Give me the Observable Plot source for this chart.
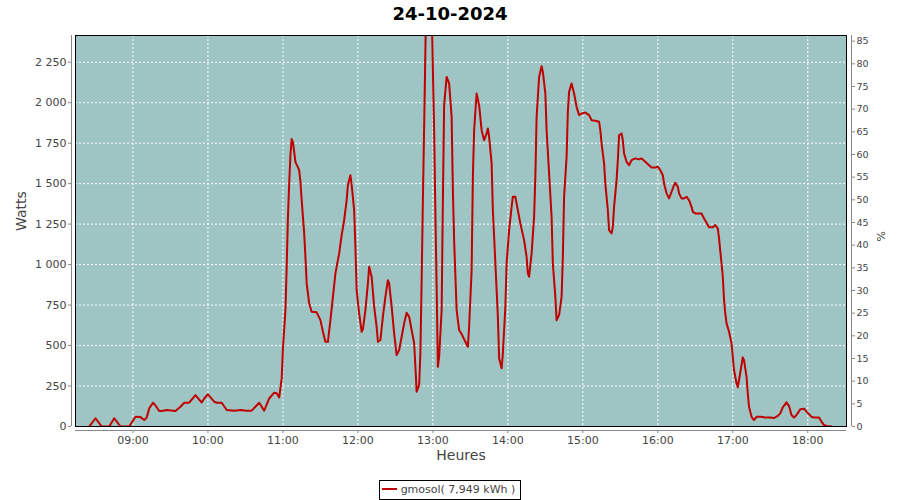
<!DOCTYPE html>
<html>
<head>
<meta charset="utf-8">
<script src="https://cdn.jsdelivr.net/npm/d3@7"></script>
<script src="https://cdn.jsdelivr.net/npm/@observablehq/plot@0.6"></script>
<style>
  body { margin: 0; background: #fff; font-family: "DejaVu Sans", sans-serif; width: 900px; }
  #title { height: 28px; line-height: 28px; text-align: center; font-weight: bold; font-size: 18px; color: #000; }
  #chart svg { display: block; }
  #legend { text-align: center; margin-top: 6px; height: 22px; }
  #legend .box { display: inline-block; border: 1px solid #000; height: 18px; line-height: 18px; padding: 0 5px 0 2px; font-size: 11px; color: #444; box-sizing: content-box; }
  #legend .sw { display: inline-block; width: 15px; height: 2px; background: #c00000; vertical-align: middle; margin-right: 4px; position: relative; top: -1px; }
</style>
</head>
<body>
<div id="title">24-10-2024</div>
<div id="chart"></div>
<div id="legend"><span class="box"><span class="sw"></span>gmosol( 7,949 kWh )</span></div>
<script>
const times = ["08:25","08:30","08:35","08:41","08:45","08:50","08:57","09:02","09:06","09:09","09:11","09:13","09:16","09:18","09:21","09:23","09:27","09:34","09:38","09:41","09:45","09:50","09:55","09:57","10:00","10:05","10:07","10:11","10:15","10:21","10:26","10:31","10:35","10:41","10:45","10:49","10:53","10:55","10:57","10:59",
"11:00","11:01","11:02","11:03","11:04","11:05","11:06","11:07","11:08","11:10","11:13","11:14","11:15","11:17","11:18","11:19","11:21","11:23","11:27","11:30","11:32","11:34","11:36","11:38","11:40","11:42","11:45","11:47","11:49","11:51","11:52","11:54","11:55","11:57","11:58","11:59",
"12:01","12:03","12:04","12:06","12:08","12:09","12:11","12:13","12:15","12:16","12:18","12:20","12:22","12:24","12:25","12:27","12:29","12:31","12:33","12:35","12:37","12:39","12:41","12:43","12:45","12:46","12:47","12:49","12:50","12:51","12:52","12:53","12:54","12:55","12:57","12:59",
"13:00","13:01","13:02","13:03","13:04","13:05","13:07","13:08","13:09","13:11","13:13","13:15","13:16","13:17","13:19","13:21","13:23","13:26","13:28","13:29","13:31","13:32","13:33","13:35","13:37","13:39","13:41","13:43","13:44","13:45","13:47","13:48","13:49","13:51","13:52","13:53","13:55","13:56","13:58","13:59",
"14:01","14:03","14:04","14:06","14:08","14:10","14:13","14:15","14:16","14:17","14:19","14:21","14:22","14:23","14:25","14:27","14:28","14:30","14:31","14:33","14:35","14:36","14:38","14:39","14:41","14:43","14:44","14:45","14:47","14:48","14:49","14:51","14:53","14:55","14:57","14:59",
"15:02","15:05","15:07","15:10","15:13","15:14","15:15","15:17","15:18","15:20","15:21","15:23","15:24","15:25","15:27","15:28","15:29","15:31","15:32","15:33","15:35","15:37","15:39","15:42","15:45","15:47","15:50","15:53","15:55","15:58",
"16:00","16:02","16:04","16:05","16:07","16:09","16:11","16:13","16:14","16:16","16:17","16:19","16:21","16:23","16:25","16:27","16:28","16:30","16:33","16:35","16:37","16:39","16:41","16:44","16:46","16:48","16:49","16:51","16:52","16:53","16:54","16:55","16:57","16:59",
"17:00","17:01","17:03","17:04","17:05","17:07","17:08","17:09","17:11","17:12","17:13","17:15","17:17","17:19","17:22","17:26","17:30","17:33","17:36","17:38","17:40","17:43","17:45","17:47","17:49","17:51","17:54","17:57","17:59",
"18:03","18:05","18:09","18:11","18:13","18:15","18:19"];
const watts = [0,51,0,0,51,0,0,60,58,40,55,112,147,130,96,96,102,96,122,147,147,194,148,173,199,153,147,147,102,98,102,98,98,147,98,173,209,205,180,297,
483,600,719,986,1290,1501,1676,1775,1758,1635,1583,1511,1398,1193,1048,884,760,709,705,657,585,523,523,657,801,946,1069,1182,1275,1398,1491,1552,1491,1336,1110,843,
699,585,600,719,884,986,925,740,616,523,534,678,801,904,884,740,575,441,472,554,637,703,678,596,514,370,215,256,452,900,1400,1850,2324,2800,2900,2600,
2201,1830,1316,863,369,431,719,1398,1985,2159,2119,1912,1460,1151,719,596,571,523,493,616,966,1542,1830,2057,1985,1830,1768,1810,1841,1789,1625,1336,1172,843,678,421,359,452,740,1007,
1213,1357,1419,1419,1336,1254,1151,1048,946,925,1069,1295,1542,1912,2159,2225,2190,2057,1830,1563,1295,1007,801,657,688,801,1048,1419,1665,1943,2067,2119,2057,1974,1923,1933,
1939,1923,1892,1888,1882,1830,1748,1625,1501,1336,1213,1193,1233,1357,1522,1645,1799,1810,1768,1686,1635,1614,1645,1656,1650,1656,1635,1614,1600,1600,
1604,1583,1552,1501,1440,1409,1450,1491,1505,1480,1440,1409,1409,1419,1398,1357,1326,1316,1316,1316,1285,1258,1230,1230,1244,1223,1162,1007,925,781,699,637,585,514,
431,349,267,242,287,380,427,410,307,205,122,60,40,60,60,56,56,52,65,81,118,149,126,71,55,71,106,110,92,
60,55,55,30,9,3,0];

const wattTicks = [0,250,500,750,1000,1250,1500,1750,2000,2250];
const pctTicks = [0,5,10,15,20,25,30,35,40,45,50,55,60,65,70,75,80,85];
const hourTicks = ["09:00","10:00","11:00","12:00","13:00","14:00","15:00","16:00","17:00","18:00"];
const wattsPerPct = 28;
const xStart = "08:14", xEnd = "18:31";
const yMax = 2415;

const toDate = s => { const [h, m] = s.split(":").map(Number); return new Date(2024, 9, 24, h, m); };
const data = times.map((t, i) => ({t: toDate(t), w: watts[i]}));
const hours = hourTicks.map(toDate);
const fmtW = d => d3.format(",")(d).replace(/,/g, " ");

const chart = Plot.plot({
  width: 900,
  height: 444,
  marginLeft: 75,
  marginRight: 54,
  marginTop: 7,
  marginBottom: 46,
  style: {fontFamily: "DejaVu Sans", color: "#444", background: "white", overflow: "visible"},
  x: {type: "time", domain: [toDate(xStart), toDate(xEnd)]},
  y: {domain: [0, yMax]},
  marks: [
    Plot.frame({fill: "#9fc4c4", stroke: null}),
    Plot.gridY({ticks: wattTicks, stroke: "white", strokeOpacity: 1, strokeDasharray: "2,2"}),
    Plot.gridX({ticks: hours, stroke: "white", strokeOpacity: 1, strokeDasharray: "2,2"}),
    Plot.line(data, {x: "t", y: "w", stroke: "#c00000", strokeWidth: 2, clip: true}),
    Plot.frame({stroke: "#000", strokeWidth: 1}),
    // axis lines
    Plot.ruleY([0], {dy: 4, stroke: "#888"}),
    Plot.ruleX([toDate(xStart)], {dx: -4, stroke: "#888"}),
    Plot.ruleX([toDate(xEnd)], {dx: 5, stroke: "#888"}),
    Plot.axisY({anchor: "left", ticks: wattTicks, tickFormat: fmtW, dx: -4, tickSize: 3, tickPadding: 2, fontSize: 11, label: null, stroke: "#888"}),
    Plot.axisY({anchor: "right", ticks: pctTicks.map(p => p * wattsPerPct), tickFormat: d => String(Math.round(d / wattsPerPct)), dx: 5, tickSize: 3, tickPadding: 2, fontSize: 9.5, label: null, stroke: "#888"}),
    Plot.axisX({ticks: hours, tickFormat: d3.timeFormat("%H:%M"), dy: 4, tickSize: 3, tickPadding: 3, fontSize: 11, label: null, stroke: "#888"}),
    Plot.text(["Watts"], {frameAnchor: "left", dx: -53.5, rotate: -90, fontSize: 14, fill: "#444"}),
    Plot.text(["Heures"], {frameAnchor: "bottom", dy: 33, fontSize: 14, fill: "#444"}),
    Plot.text(["%"], {frameAnchor: "right", dx: 35, rotate: -90, fontSize: 11, fill: "#444"})
  ]
});
document.getElementById("chart").appendChild(chart);
</script>
</body>
</html>
